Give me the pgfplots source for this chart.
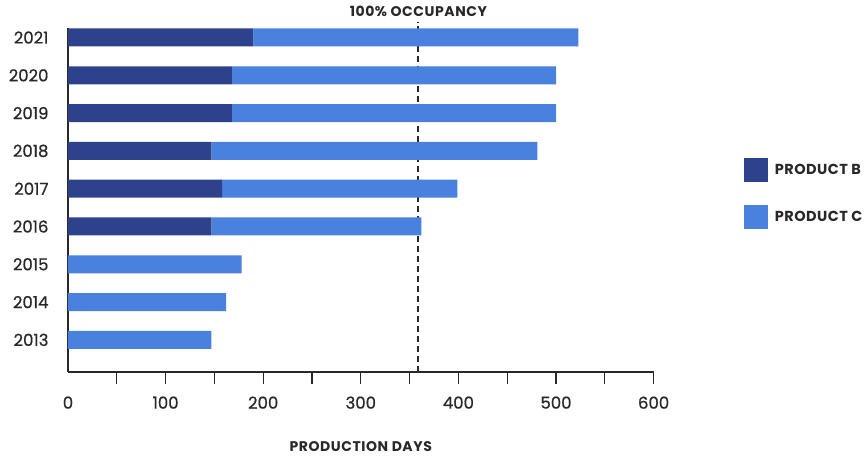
\documentclass[border=0pt]{standalone}
\usepackage{fontspec}
\setmainfont{Poppins}
\usepackage{pgfplots}
\pgfplotsset{compat=1.18}
\definecolor{prodB}{RGB}{46,66,140}
\definecolor{prodC}{RGB}{74,128,222}
\definecolor{axcol}{RGB}{40,40,40}
\newcommand{\numfont}{\fontsize{16.5}{18}\selectfont\addfontfeature{FakeBold=0.6}}
\newcommand{\capfont}{\bfseries\fontsize{14}{16}\selectfont\addfontfeature{LetterSpace=4}}
\begin{document}
\begin{tikzpicture}
\begin{axis}[
  at={(0pt,0pt)}, anchor=south west,
  xbar stacked,
  bar width=18pt,
  x=0.976pt, y=37.8pt,
  xmin=0, xmax=600,
  ymin=2012.15, ymax=2021.26,
  axis x line=bottom, axis y line=left,
  axis line style={-, draw=axcol, line width=1.3pt},
  xtick={0,100,...,600},
  minor xtick={50,100,...,600},
  major tick length=0pt,
  minor tick length=12pt,
  tick align=outside,
  minor tick style={draw=axcol, line width=1.3pt},
  ytick={2013,...,2021},
  yticklabel style={font=\numfont, text=axcol, xshift=-16pt},
  xticklabel style={font=\numfont, text=axcol, yshift=-21pt},
  /pgf/number format/assume math mode=true,
  /pgf/number format/1000 sep={},
  xlabel={PRODUCTION DAYS},
  xlabel style={at={(axis description cs:0.5,0)}, anchor=center, yshift=-75pt, font=\capfont, text=axcol},
  clip=false,
  legend style={draw=none, fill=none, at={(1.154,0.621)}, anchor=north west, inner sep=0pt, row sep=23pt, column sep=5pt, font=\bfseries\fontsize{14.5}{16}\selectfont\addfontfeature{LetterSpace=3}, text=axcol, legend cell align=left},
  legend image code/.code={\fill[#1] (0pt,-12pt) rectangle (24pt,12pt);},
]
\addplot[fill=prodB, draw=none] coordinates {
 (0,2013) (0,2014) (0,2015) (147,2016) (158,2017) (147,2018) (168,2019) (168,2020) (190,2021)};
\addplot[fill=prodC, draw=none] coordinates {
 (147,2013) (162,2014) (178,2015) (215,2016) (241,2017) (334,2018) (332,2019) (332,2020) (333,2021)};
\legend{PRODUCT B, PRODUCT C}
\draw[axcol, line width=1.8pt, dash pattern=on 6pt off 4pt] (axis cs:359,2012.15) -- (axis cs:359,2021.42);
\node[font=\capfont, text=axcol] at (axis cs:359,2021.69) {100\% OCCUPANCY};
\end{axis}
\path[use as bounding box] (-68pt,-85pt) rectangle (799pt,372pt);
\end{tikzpicture}
\end{document}
